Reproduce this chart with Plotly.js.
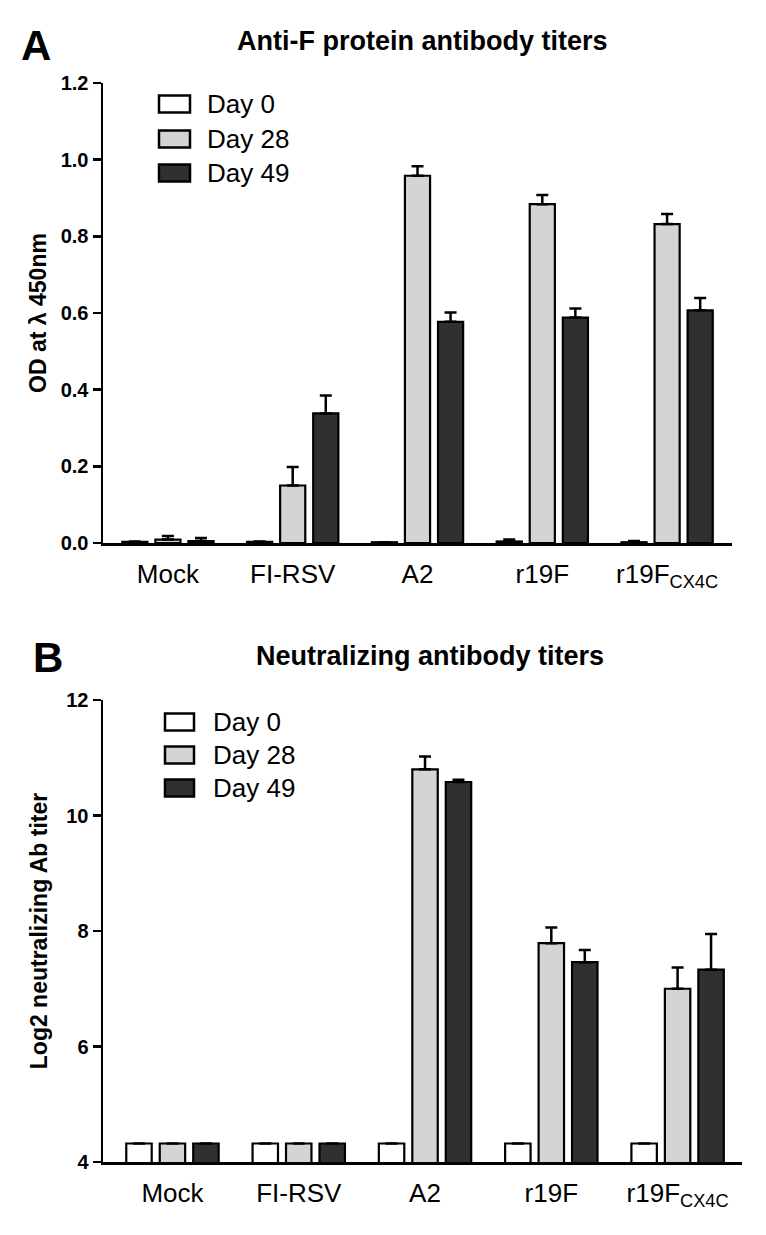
<!DOCTYPE html>
<html>
<head>
<meta charset="utf-8">
<script src="https://cdn.plot.ly/plotly-3.0.1.min.js"></script>
<style>html,body{margin:0;padding:0;background:#fff;}#chart{width:766px;height:1235px;}</style>
</head>
<body>
<div id="chart"></div>
<script>
// ---------- data ----------
const categories = ["Mock", "FI-RSV", "A2", "r19F", "r19F_CX4C"];
const tickLabels = ["Mock", "FI-RSV", "A2", "r19F", "r19F<sub>CX4C</sub>"];
const seriesNames = ["Day 0", "Day 28", "Day 49"];
const seriesColors = ["#ffffff", "#d4d4d4", "#303030"];

// Panel A: Anti-F protein antibody titers (OD at 450nm)
const odDay0 = [0.003, 0.003, 0.002, 0.004, 0.002];
const odDay0Err = [0.001, 0.001, 0.0, 0.005, 0.003];
const odDay28 = [0.009, 0.150, 0.958, 0.884, 0.832];
const odDay28Err = [0.009, 0.048, 0.025, 0.024, 0.026];
const odDay49 = [0.005, 0.338, 0.577, 0.588, 0.607];
const odDay49Err = [0.008, 0.047, 0.024, 0.024, 0.032];

// Panel B: Neutralizing antibody titers (log2)
const nabDay0 = [4.32, 4.32, 4.32, 4.32, 4.32];
const nabDay0Err = [0, 0, 0, 0, 0];
const nabDay28 = [4.32, 4.32, 10.80, 7.79, 7.00];
const nabDay28Err = [0, 0, 0.22, 0.27, 0.37];
const nabDay49 = [4.32, 4.32, 10.58, 7.46, 7.33];
const nabDay49Err = [0, 0, 0.04, 0.21, 0.62];

const odTicks = [0, 0.2, 0.4, 0.6, 0.8, 1.0, 1.2];
const nabTicks = [4, 6, 8, 10, 12];

// ---------- helpers ----------
const W = 766, H = 1235;
const px = x => x / W;
const py = y => 1 - y / H;
const zeros = n => new Array(n).fill(0);
const FONT = "Liberation Sans, Arial, sans-serif";

function makeBar(name, vals, errs, color, xa, ya) {
  return {
    type: "bar", name: name, x: categories, y: vals,
    xaxis: xa, yaxis: ya, showlegend: false,
    marker: {color: color, line: {color: "#000", width: 2.2}},
    error_y: {type: "data", symmetric: false, array: errs, arrayminus: zeros(errs.length),
              color: "#000", thickness: 2.5, width: 6},
    hoverinfo: "x+y"
  };
}

const data = [
  makeBar(seriesNames[0], odDay0, odDay0Err, seriesColors[0], "x", "y"),
  makeBar(seriesNames[1], odDay28, odDay28Err, seriesColors[1], "x", "y"),
  makeBar(seriesNames[2], odDay49, odDay49Err, seriesColors[2], "x", "y"),
  makeBar(seriesNames[0], nabDay0, nabDay0Err, seriesColors[0], "x2", "y2"),
  makeBar(seriesNames[1], nabDay28, nabDay28Err, seriesColors[1], "x2", "y2"),
  makeBar(seriesNames[2], nabDay49, nabDay49Err, seriesColors[2], "x2", "y2")
];

const xaxisCommon = {
  type: "category", showline: true, linecolor: "#000", linewidth: 2.5,
  ticks: "", showgrid: false, zeroline: false, automargin: false,
  tickmode: "array", tickvals: categories, ticktext: tickLabels,
  tickfont: {family: FONT, size: 26, color: "#000"}, ticklabelstandoff: 6,
  fixedrange: true
};
const yaxisCommon = {
  showline: true, linecolor: "#000", linewidth: 2.5, ticks: "outside", ticklen: 8,
  tickwidth: 2.5, tickcolor: "#000", showgrid: false, zeroline: false, automargin: false,
  tickfont: {family: FONT, size: 20, color: "#000", weight: "bold"}, tickmode: "array",
  fixedrange: true
};

// manual legends (boxes + labels)
const shapes = [], annotations = [];
function addLegend(boxX0, boxX1, textX, centers) {
  centers.forEach((cy, i) => {
    shapes.push({type: "rect", xref: "paper", yref: "paper",
      x0: px(boxX0), x1: px(boxX1), y0: py(cy + 8.5), y1: py(cy - 8.5),
      fillcolor: seriesColors[i], line: {color: "#000", width: 2.5}});
    annotations.push({xref: "paper", yref: "paper", x: px(textX), y: py(cy),
      xanchor: "left", yanchor: "middle", showarrow: false, text: seriesNames[i],
      font: {family: FONT, size: 26, color: "#000"}});
  });
}
addLegend(159, 190, 205, [104, 139, 173]);
addLegend(165, 194, 211, [722, 755, 788]);

annotations.push(
  {xref: "paper", yref: "paper", x: px(422), y: py(41), xanchor: "center", yanchor: "middle",
   showarrow: false, text: "Anti-F protein antibody titers",
   font: {family: FONT, size: 27, color: "#000", weight: "bold"}},
  {xref: "paper", yref: "paper", x: px(430), y: py(656), xanchor: "center", yanchor: "middle",
   showarrow: false, text: "Neutralizing antibody titers",
   font: {family: FONT, size: 27, color: "#000", weight: "bold"}},
  {xref: "paper", yref: "paper", x: px(36), y: py(45), xanchor: "center", yanchor: "middle",
   showarrow: false, text: "A", font: {family: FONT, size: 42, color: "#000", weight: "bold"}},
  {xref: "paper", yref: "paper", x: px(48), y: py(657), xanchor: "center", yanchor: "middle",
   showarrow: false, text: "B", font: {family: FONT, size: 42, color: "#000", weight: "bold"}}
);

const layout = {
  width: W, height: H, margin: {l: 0, r: 0, t: 0, b: 0},
  paper_bgcolor: "#fff", plot_bgcolor: "#fff",
  barmode: "group", bargap: 0.205, bargroupgap: 0.24,
  showlegend: false,
  xaxis: Object.assign({}, xaxisCommon, {domain: [px(103), px(732)], range: [-0.52, 4.52], anchor: "y"}),
  yaxis: Object.assign({}, yaxisCommon, {domain: [py(543), py(83)], range: [0, 1.2], anchor: "x",
    tickvals: odTicks, tickformat: ".1f",
    title: {text: "OD at λ 450nm", font: {family: FONT, size: 23, color: "#000", weight: "bold"}, standoff: 8}}),
  xaxis2: Object.assign({}, xaxisCommon, {domain: [px(103), px(742)], range: [-0.55, 4.51], anchor: "y2"}),
  yaxis2: Object.assign({}, yaxisCommon, {domain: [py(1162), py(700)], range: [4, 12], anchor: "x2",
    tickvals: nabTicks,
    title: {text: "Log2 neutralizing Ab titer", font: {family: FONT, size: 23, color: "#000", weight: "bold"}, standoff: 12}}),
  shapes: shapes,
  annotations: annotations
};

Plotly.newPlot("chart", data, layout, {displayModeBar: false, staticPlot: true});
</script>
</body>
</html>
